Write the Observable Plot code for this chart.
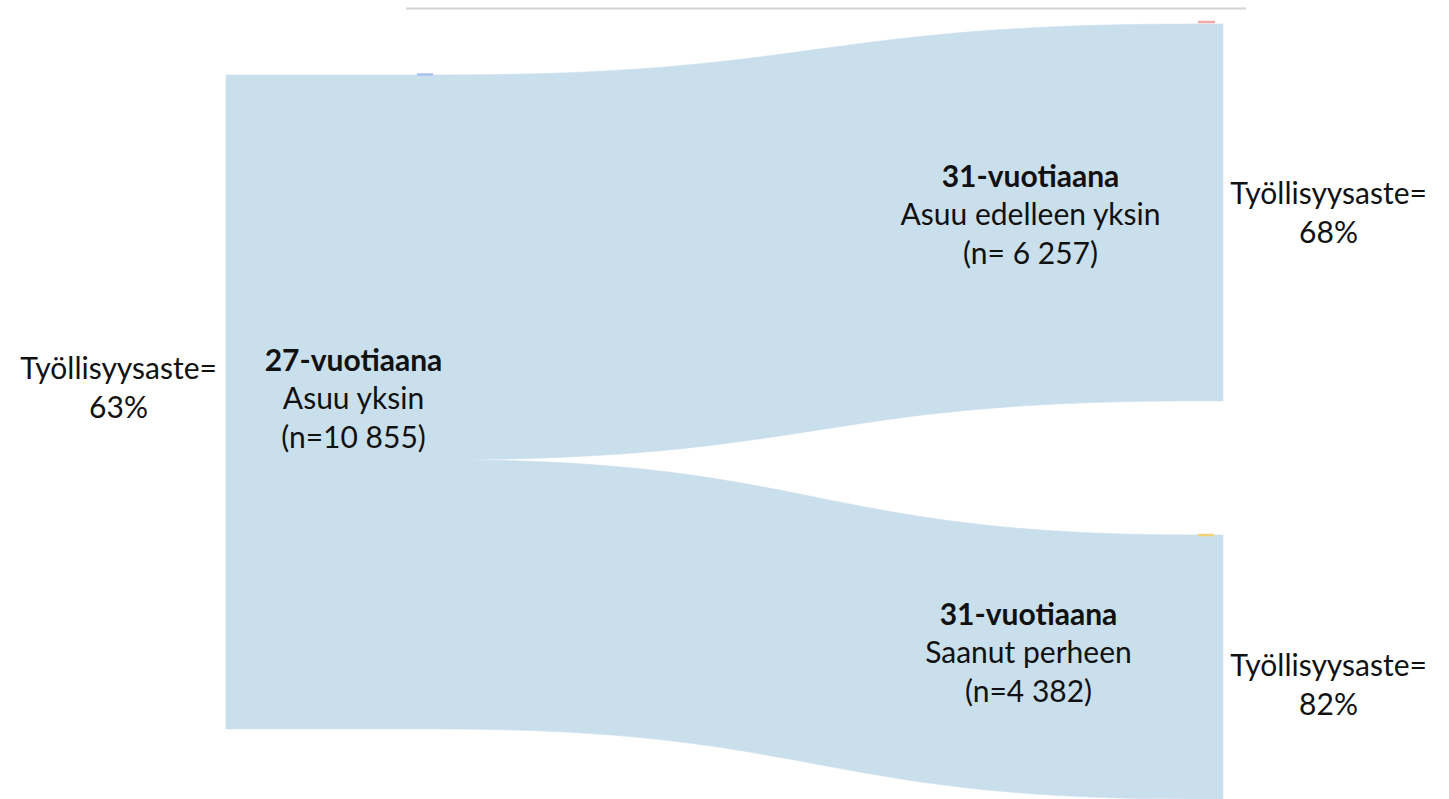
<!DOCTYPE html>
<html>
<head>
<meta charset="utf-8">
<script src="https://cdn.jsdelivr.net/npm/d3@7"></script>
<script src="https://cdn.jsdelivr.net/npm/@observablehq/plot@0.6"></script>
<style>
  html, body { margin: 0; padding: 0; background: #fff; }
  #chart svg { display: block; }
</style>
</head>
<body>
<div id="chart"></div>
<script>
// ---- data ----
const stageAges = [27, 31];
const nodeStage = [27, 31, 31];
const nodeTitles = ["27-vuotiaana", "31-vuotiaana", "31-vuotiaana"];
const nodeNames = ["Asuu yksin", "Asuu edelleen yksin", "Saanut perheen"];
const nodeCounts = [10855, 6257, 4382];
const nodeCountLabels = ["(n=10 855)", "(n= 6 257)", "(n=4 382)"];
const employmentLabel = "Työllisyysaste=";
const employmentRates = [63, 68, 82];
const linkSource = [0, 0];
const linkTarget = [1, 2];
const linkValues = [6257, 4382];

// ---- layout (pixel constants converted through scales) ----
const W = 1449, H = 799;
const fill = "#c9dfec";
const font = "Lato, 'Open Sans', sans-serif";
const xs = d3.scaleLinear().domain(stageAges).range([440, 1192]);
const pxPerCount = 654 / nodeCounts[0];
const ys = d3.scaleLinear().domain([0, H / pxPerCount]).range([0, H]);
const X = px => xs.invert(px);
const Y = px => ys.invert(px);

// node rectangles (y in counts)
const nodeTop = [Y(75), Y(24), Y(24) + nodeCounts[1] + Y(134)];
const nodes = nodeCounts.map((c, i) => ({
  i, stage: nodeStage[i], y1: nodeTop[i], y2: nodeTop[i] + c,
  x1: i === 0 ? X(226) : nodeStage[i],
  x2: i === 0 ? nodeStage[i] : X(1223)
}));

// links: stacked at source, normalised to fill the source node
const flowSum = d3.sum(linkValues);
let srcCursor = nodes[0].y1;
const linkAreas = [];
linkValues.forEach((v, j) => {
  const s = nodes[linkSource[j]], t = nodes[linkTarget[j]];
  const w = v * nodeCounts[0] / flowSum;
  const a = { link: j, x: s.stage, y1: srcCursor, y2: srcCursor + w };
  const b = { link: j, x: t.stage, y1: t.y1, y2: t.y1 + v };
  srcCursor += w;
  linkAreas.push(a, b);
});

// labels
const nodeLabelX = [X(353), X(1030), X(1028)];
const nodeLabelCY = [Y(399), Y(215), Y(653)];
const lineStep = Y(38.5);
const titleLabels = nodes.map((n, i) => ({ x: nodeLabelX[i], y: nodeLabelCY[i] - lineStep, text: nodeTitles[i] }));
const bodyLabels = nodes.flatMap((n, i) => [
  { x: nodeLabelX[i], y: nodeLabelCY[i], text: nodeNames[i] },
  { x: nodeLabelX[i], y: nodeLabelCY[i] + lineStep, text: nodeCountLabels[i] }
]);
const empX = [X(118), X(1328), X(1328)];
const empCY = [Y(388), Y(213.5), Y(685.5)];
const empLabels = employmentRates.flatMap((r, i) => [
  { x: empX[i], y: empCY[i] - Y(19.5), text: employmentLabel },
  { x: empX[i], y: empCY[i] + Y(19.5), text: r + "%" }
]);

// small node markers seen in the original
const markers = [
  { x1: X(417), x2: X(433), y: Y(74), c: "#a9c2ee" },
  { x1: X(1198), x2: X(1215), y: Y(21.5), c: "#f2aaa6" },
  { x1: X(1198), x2: X(1214), y: Y(534.5), c: "#f3d37a" }
];

const chart = Plot.plot({
  width: W, height: H,
  margin: 0,
  x: { domain: xs.domain(), range: xs.range(), axis: null },
  y: { domain: ys.domain(), range: ys.range(), axis: null },
  style: { fontFamily: font, background: "#fff" },
  marks: [
    Plot.ruleY([Y(8)], { x1: X(406), x2: X(1246), stroke: "#d4d4d4", strokeWidth: 2 }),
    Plot.rect(nodes, { x1: "x1", x2: "x2", y1: "y1", y2: "y2", fill, stroke: fill, strokeWidth: 0.6 }),
    Plot.area(linkAreas, { x1: "x", y1: "y1", y2: "y2", z: "link", curve: "bump-x", fill, stroke: fill, strokeWidth: 0.6 }),
    Plot.ruleY(markers, { x1: "x1", x2: "x2", y: "y", stroke: "c", strokeWidth: 2.5 }),
    Plot.text(titleLabels, { x: "x", y: "y", text: "text", fontSize: 30, fontWeight: "bold", fill: "#111" }),
    Plot.text(bodyLabels, { x: "x", y: "y", text: "text", fontSize: 30, fill: "#111" }),
    Plot.text(empLabels, { x: "x", y: "y", text: "text", fontSize: 30, fill: "#111" })
  ]
});
document.getElementById("chart").appendChild(chart);
</script>
</body>
</html>
